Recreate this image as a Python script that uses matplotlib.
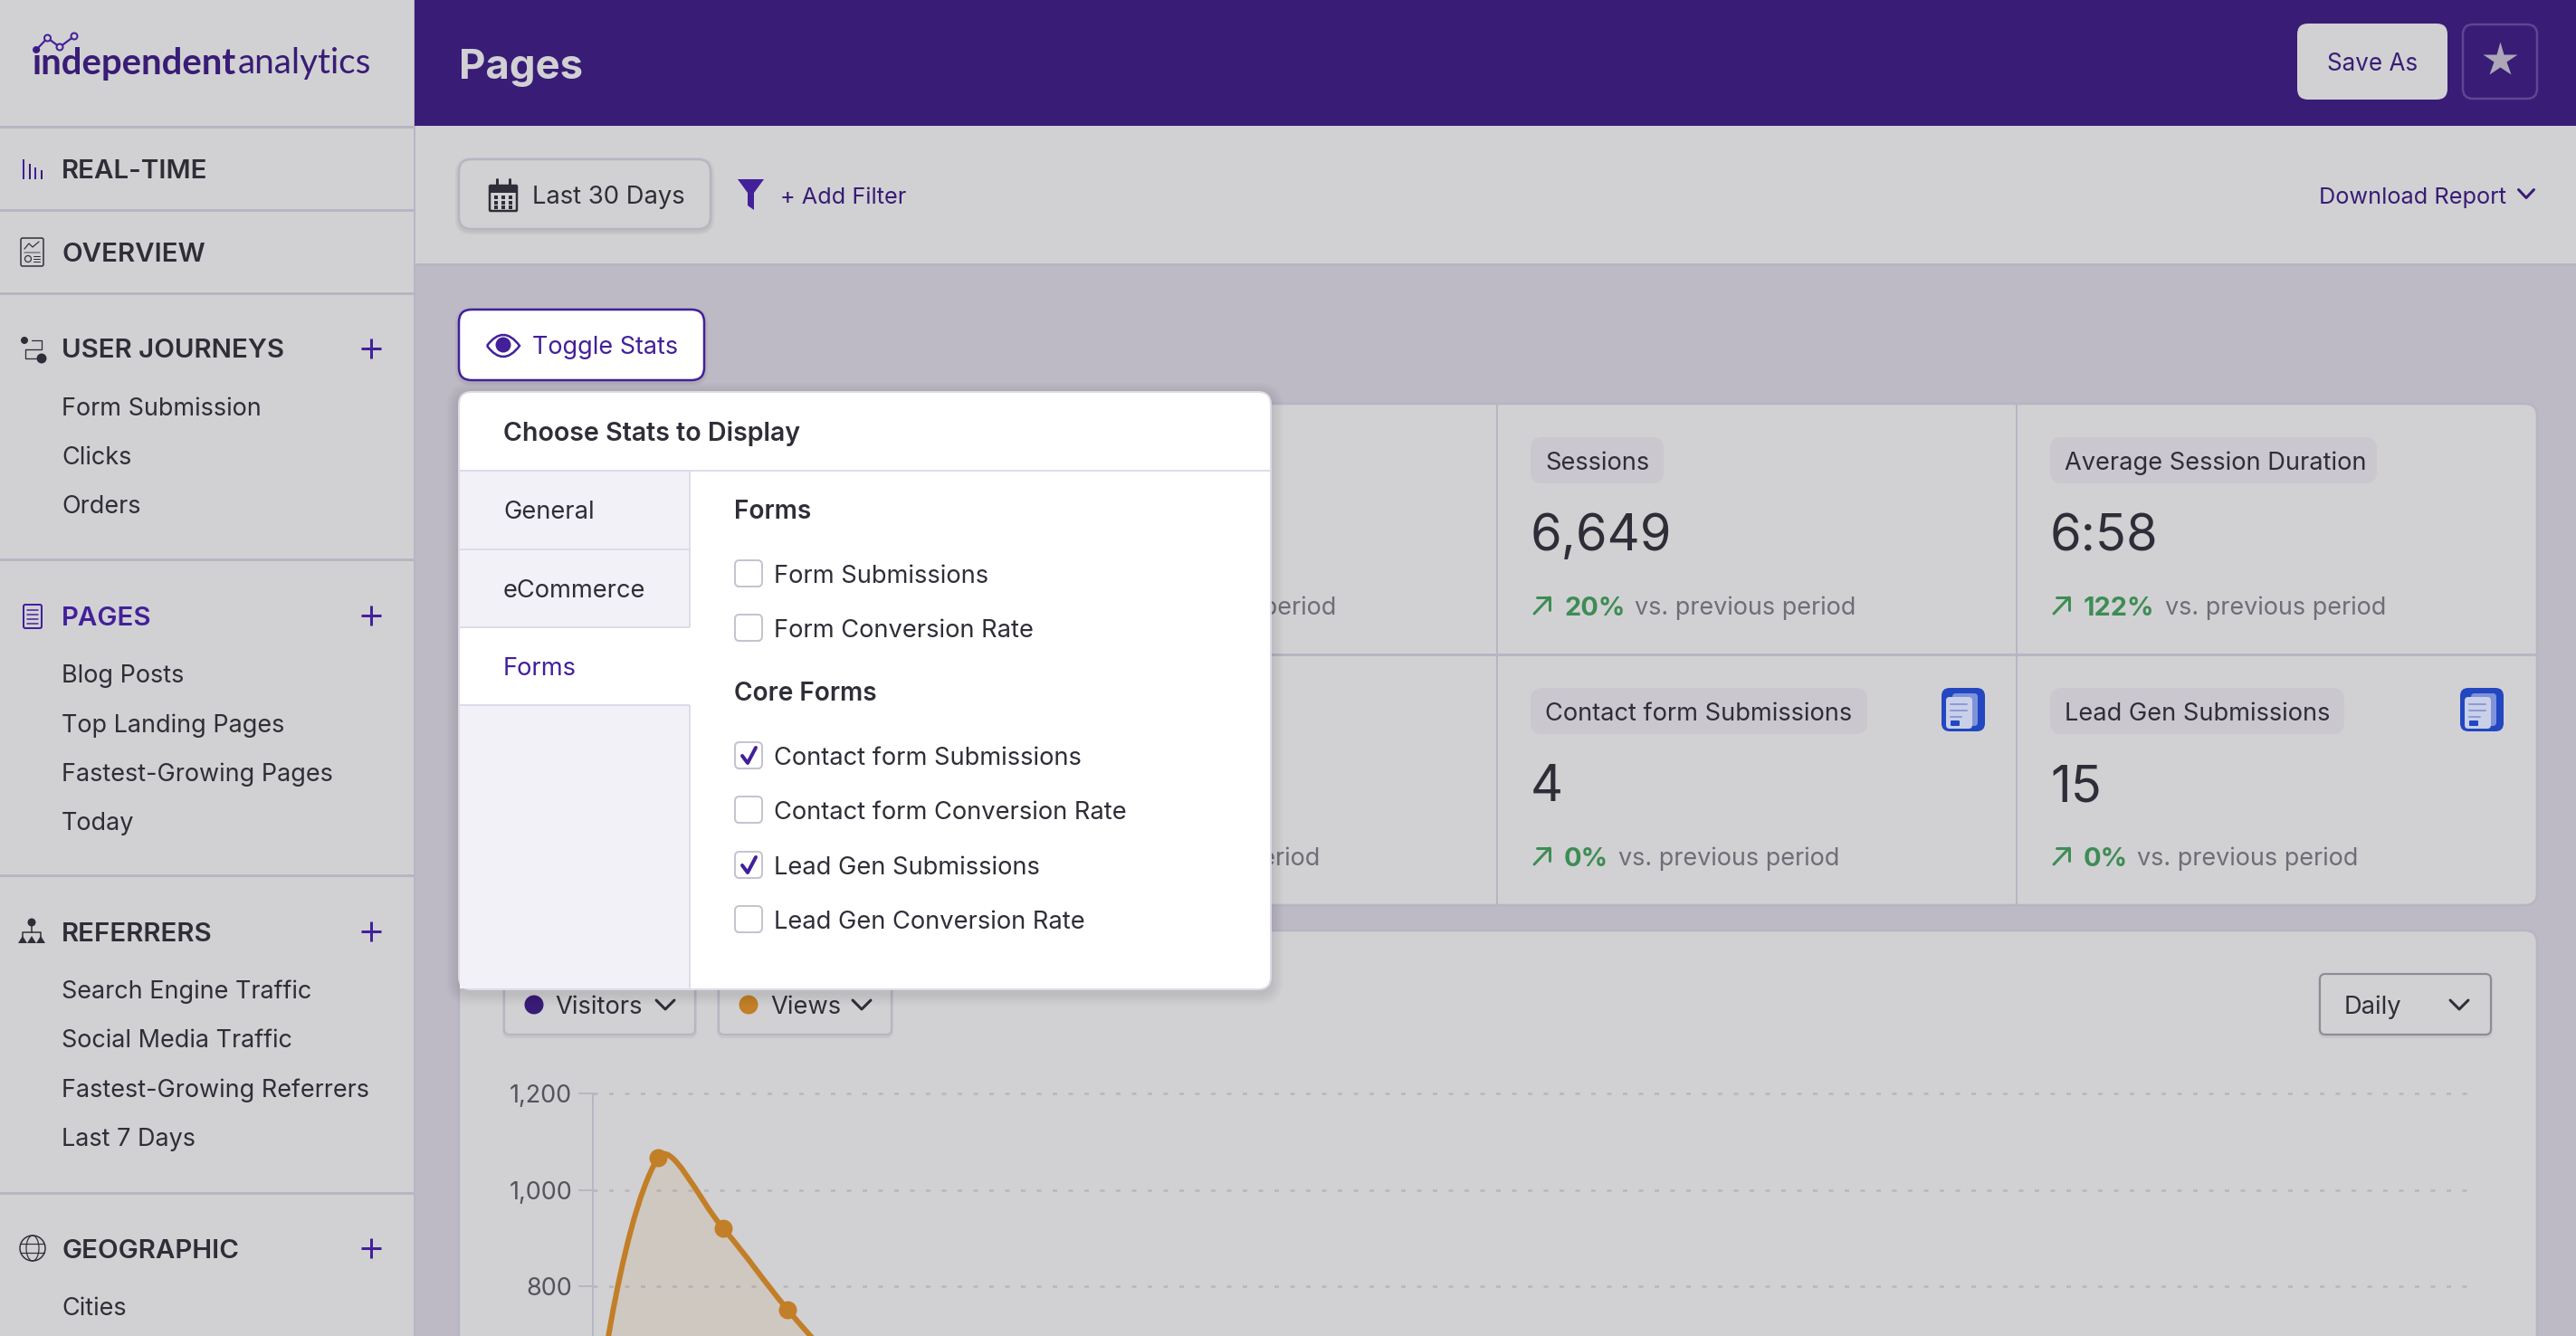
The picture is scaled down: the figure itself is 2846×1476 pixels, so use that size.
#!/usr/bin/env python3
"""Independent Analytics "Pages" screen with the Toggle Stats popover open."""

import numpy as np
import matplotlib
matplotlib.use('Agg')
import matplotlib.pyplot as plt
from matplotlib.patches import FancyBboxPatch, PathPatch, Rectangle, Circle, Polygon, Ellipse
from matplotlib.path import Path
from matplotlib.ticker import FuncFormatter

# ── Data ──────────────────────────────────────────────────────────────
NAV_TOP = ['REAL-TIME', 'OVERVIEW']
NAV_JOURNEYS = ['Form Submission', 'Clicks', 'Orders']
NAV_PAGES = ['Blog Posts', 'Top Landing Pages', 'Fastest-Growing Pages', 'Today']
NAV_REFERRERS = ['Search Engine Traffic', 'Social Media Traffic',
                 'Fastest-Growing Referrers', 'Last 7 Days']
NAV_GEO = ['Cities']

TABS = ['General', 'eCommerce', 'Forms']
FORMS_OPTS = ['Form Submissions', 'Form Conversion Rate']
CORE_OPTS = ['Contact form Submissions', 'Contact form Conversion Rate',
             'Lead Gen Submissions', 'Lead Gen Conversion Rate']
CORE_CHECKED = [True, False, True, False]

CARD_LABELS = ['Sessions', 'Average Session Duration',
               'Contact form Submissions', 'Lead Gen Submissions']
CARD_VALUES = ['6,649', '6:58', '4', '15']
CARD_DELTAS = ['20%', '122%', '0%', '0%']

DAYS = [0, 1, 2, 3, 4]
VIEWS = [480, 1066, 921, 751, 600]
Y_TICKS = [800, 1000, 1200]

# ── Colours ───────────────────────────────────────────────────────────
PANEL = '#D1D1D3'
PAGE = '#BDBAC5'
RULE = '#B8B5C3'
PURPLE = '#391C76'
BRIGHT = '#43209A'
INK = '#2F2E38'
MUTED = '#6F6D78'
GREEN = '#3E8C55'
PILL = '#CAC7CE'
ORANGE = '#C27F27'
BLUE = '#2347C0'
TAB_BG = '#F3F1F8'
POP_RULE = '#DEDBE8'

W, H = 2846, 1476
DPI = 100
FONT = 'Inter'
BODY = 27.3

plt.rcParams['font.family'] = [FONT, 'DejaVu Sans']

fig = plt.figure(figsize=(W / DPI, H / DPI), dpi=DPI, facecolor=PAGE)
ax = fig.add_axes([0, 0, 1, 1])
ax.set_xlim(0, W)
ax.set_ylim(H, 0)
ax.axis('off')


def px(v):
    """Pixels to points."""
    return v * 72 / DPI


def txt(x, y, s, size=BODY, color=INK, weight='normal', ha='left', z=5, **kw):
    # y is the middle of the capitals
    return ax.text(x, y + 0.3635 * size, s, fontsize=px(size), color=color,
                   fontweight=weight, ha=ha, va='baseline', zorder=z, **kw)


def box(x0, y0, x1, y1, r=10, fc='none', ec='none', lw=0, z=2):
    p = FancyBboxPatch((x0, y0), x1 - x0, y1 - y0,
                       boxstyle=f'round,pad=0,rounding_size={r}',
                       fc=fc, ec=ec, lw=px(lw), zorder=z)
    ax.add_patch(p)
    return p


def shadow(x0, y0, x1, y1, r=10, spread=10, alpha=0.025, dy=2, z=1.5):
    for s in range(spread, 0, -2):
        box(x0 - s, y0 - s + dy, x1 + s, y1 + s + dy, r=r + s,
            fc=(0, 0, 0, alpha), z=z)


def rect(x0, y0, x1, y1, fc, z=1):
    ax.add_patch(Rectangle((x0, y0), x1 - x0, y1 - y0, fc=fc, ec='none', zorder=z))


def line(xs, ys, color=INK, lw=2, z=5, **kw):
    ax.plot(xs, ys, color=color, lw=px(lw), zorder=z,
            solid_capstyle=kw.pop('cap', 'round'), solid_joinstyle='round', **kw)


def chevron(cx, cy, w=18, h=9, color=INK, lw=3, z=5):
    line([cx - w / 2, cx, cx + w / 2], [cy - h / 2, cy + h / 2, cy - h / 2],
         color=color, lw=lw, z=z)


def plus(cx, cy, size=11, color=BRIGHT):
    line([cx - size, cx + size], [cy, cy], color=color, lw=3, cap='butt')
    line([cx, cx], [cy - size, cy + size], color=color, lw=3, cap='butt')


def circ(cx, cy, r, fc='none', ec='none', lw=0, z=5):
    ax.add_patch(Circle((cx, cy), r, fc=fc, ec=ec, lw=px(lw), zorder=z))


# ── Layout backgrounds ────────────────────────────────────────────────
rect(0, 0, 457, H, PANEL, z=0.5)
rect(457, 0, 459, H, RULE, z=0.6)
rect(458, 0, W, 139, PURPLE, z=0.7)
rect(459, 139, W, 291, PANEL, z=0.5)
rect(459, 291, W, 294, RULE, z=0.6)

# ── Sidebar ───────────────────────────────────────────────────────────
for y in [140, 232, 324, 618, 967, 1318]:
    rect(0, y - 1.5, 457, y + 1.5, RULE, z=0.8)

# logo
lx = [40, 52.5, 66, 82]
ly = [55, 42, 52, 40]
line(lx, ly, color=BRIGHT, lw=2.2)
circ(lx[0], ly[0], 4, fc=BRIGHT)
for a, b in zip(lx[1:], ly[1:]):
    circ(a, b, 3.5, fc=PANEL, ec=BRIGHT, lw=2, z=6)
txt(35, 67, 'independent', size=40, color=PURPLE, weight='bold', family='Lato')
txt(263, 67, 'analytics', size=38.6, color=PURPLE, family='Lato')

CAPS = 29.5
txt(68, 186, NAV_TOP[0], size=CAPS, weight='semibold')
txt(68, 278, NAV_TOP[1], size=CAPS, weight='semibold')
txt(68, 384, 'USER JOURNEYS', size=CAPS, weight='semibold')
txt(68, 680, 'PAGES', size=CAPS, color=BRIGHT, weight='semibold')
txt(68, 1029, 'REFERRERS', size=CAPS, weight='semibold')
txt(68, 1379, 'GEOGRAPHIC', size=CAPS, weight='semibold')

for labels, ys in [(NAV_JOURNEYS, [449, 503, 557]),
                   (NAV_PAGES, [744, 799, 853, 907]),
                   (NAV_REFERRERS, [1093, 1147, 1202, 1256]),
                   (NAV_GEO, [1443])]:
    for lab, y in zip(labels, ys):
        txt(68, y, lab, size=27)

for y in [385, 680, 1029, 1379]:
    plus(410, y)

# real-time icon
for i, h in enumerate([22, 17, 13, 10]):
    x = 26 + i * 6.5
    line([x, x], [198, 198 - h], color=BRIGHT if i % 2 == 0 else PURPLE, lw=2, cap='butt')

# overview icon
box(23, 263, 48, 294, r=2, ec=INK, lw=1.5)
line([27, 32, 36, 43], [275, 269, 273, 267], lw=1.2)
line([27, 44], [278.5, 278.5], color='#77757F', lw=1.5)
circ(31, 286, 3.5, ec=INK, lw=1.2)
for y in [283, 286, 289]:
    line([37, 44], [y, y], lw=1)

# journeys icon
circ(27, 376, 4, fc=INK)
line([35, 46, 46, 28, 28, 40], [376, 376, 386, 386, 396, 396], lw=1.3)
circ(46, 396, 5.5, fc=INK)

# pages icon
box(26, 668, 46, 694, r=2, ec=BRIGHT, lw=2)
for y in [674, 679, 684, 689]:
    line([30, 42], [y, y], color=BRIGHT, lw=1.5)

# referrers icon
circ(35, 1019, 4.5, fc=INK)
line([35, 35], [1023, 1030], lw=1.5)
line([25, 25, 45, 45], [1035, 1030, 1030, 1035], lw=1.5)
for x in [25, 35, 45]:
    ax.add_patch(Polygon([[x - 5, 1042], [x, 1034], [x + 5, 1042]], fc=INK, ec='none', zorder=5))

# geographic icon
circ(36, 1379, 14, ec=INK, lw=1.5)
ax.add_patch(Ellipse((36, 1379), 14, 28, fc='none', ec=INK, lw=px(1.2), zorder=5))
line([23, 49], [1374, 1374], lw=1.2)
line([23, 49], [1384, 1384], lw=1.2)

# ── Header ────────────────────────────────────────────────────────────
txt(507, 70, 'Pages', size=45.5, color=PANEL, weight='bold')
box(2538, 26, 2704, 110, r=12, fc=PANEL)
txt(2621, 69, 'Save As', size=26, color=PURPLE, ha='center')
box(2721, 27, 2803, 109, r=11, fc='none', ec='#5E4690', lw=2.5)
ax.plot([2762], [66], marker='*', ms=px(40), color='#ACA8B8', mec='none', zorder=5)

# ── Toolbar ───────────────────────────────────────────────────────────
shadow(507, 176, 785, 253, r=14, spread=4, alpha=0.04)
box(507, 176, 785, 253, r=14, fc=PANEL, ec=RULE, lw=2.5)

# calendar
box(541, 205, 571, 233, r=1, fc=PANEL, ec=INK, lw=2.5)
rect(541, 204, 571, 213, INK, z=5)
for x in [549, 563]:
    line([x, x], [198, 207], lw=3)
for gx in [548, 556, 564]:
    for gy in [218, 224, 229]:
        rect(gx - 2, gy - 2, gx + 2, gy + 2, INK, z=5)
txt(588, 215, 'Last 30 Days', size=27.4)

# funnel
ax.add_patch(Polygon([[815, 198], [844, 198], [833, 213], [833, 232], [826, 227], [826, 213]],
                     fc=BRIGHT, ec='none', zorder=5))
txt(862, 216, '+ Add Filter', size=25.3, color=PURPLE)
txt(2769, 216, 'Download Report', size=25.3, color=PURPLE, ha='right')
chevron(2791, 214, w=17, h=9, color=PURPLE)

# ── Toggle button ─────────────────────────────────────────────────────
shadow(507, 342, 778, 420, r=14, spread=4, alpha=0.04)
box(507, 342, 778, 420, r=14, fc='white', ec=BRIGHT, lw=2.5, z=4)
eye = Path([(538, 382), (550, 366), (562, 366), (574, 382), (562, 398), (550, 398), (538, 382)],
           [Path.MOVETO, Path.CURVE4, Path.CURVE4, Path.CURVE4, Path.CURVE4, Path.CURVE4, Path.CURVE4])
ax.add_patch(PathPatch(eye, fc='none', ec=BRIGHT, lw=px(2.5), zorder=5))
circ(556, 381, 8.5, fc=BRIGHT)
txt(588, 381, 'Toggle Stats', size=27, color=BRIGHT)

# ── Stat cards ────────────────────────────────────────────────────────
box(507, 446, 2803, 1000, r=14, fc=PANEL, ec=RULE, lw=2.5, z=1)
rect(507, 722, 2803, 724.5, RULE, z=1.1)
for x in [1654, 2228]:
    rect(x - 1, 446, x + 1, 1000, RULE, z=1.1)

# tail ends of the two cards that sit behind the popover
txt(1476, 669, 'vs. previous period', size=27, color=MUTED, ha='right', z=1.2)
txt(1458, 946, 'vs. previous period', size=27, color=MUTED, ha='right', z=1.2)

card_x = [1691, 2265, 1691, 2265]
card_y = [483, 483, 760, 760]
pill_r = [1838, 2626, 2063, 2590]
vs_x = [1806, 2392, 1788, 2361]
for i in range(4):
    x, y = card_x[i], card_y[i]
    box(x, y, pill_r[i], y + 51, r=13, fc=PILL, z=1.2)
    txt(x + 16, y + 26, CARD_LABELS[i], size=27.2)
    txt(x, y + 105, CARD_VALUES[i], size=56)
    # trend arrow
    ay = y + 186
    line([x + 4, x + 21], [ay + 9, ay - 9], color=GREEN, lw=3)
    line([x + 7, x + 21, x + 21], [ay - 9, ay - 9, ay + 5], color=GREEN, lw=3)
    txt(x + 37, ay, CARD_DELTAS[i], size=29, color=GREEN, weight='bold')
    txt(vs_x[i], ay, 'vs. previous period', size=27, color=MUTED)

for x in [2145, 2718]:
    box(x, 760, x + 48, 808, r=9, fc=BLUE, z=2)
    box(x + 12, 766, x + 40, 802, r=4, fc='#7F93DB', z=2.1)
    box(x + 5, 770, x + 34, 805, r=4, fc='#C9D0E8', z=2.2)
    for yy, w in [(778, 18), (785, 18), (792, 12)]:
        line([x + 10, x + 10 + w], [yy, yy], color='#8C9BD8', lw=2, z=2.3)
    box(x + 10, 796, x + 20, 802, r=1, fc=BLUE, z=2.3)

# ── Chart card ────────────────────────────────────────────────────────
box(507, 1028, 2803, 1560, r=14, fc=PANEL, ec=RULE, lw=2.5, z=1)
for x0, x1, dot, lab, tx, cx in [(557, 768, PURPLE, 'Visitors', 613, 735),
                                 (794, 985, ORANGE, 'Views', 851, 952)]:
    shadow(x0, 1077, x1, 1143, r=6, spread=2, alpha=0.05)
    box(x0, 1077, x1, 1143, r=6, fc=PANEL, ec=RULE, lw=2.2, z=2)
    circ(x0 + 33, 1110, 10.5, fc=dot)
    txt(tx, 1110, lab, size=27.3)
    chevron(cx, 1110, w=20, h=10, lw=3)
shadow(2563, 1076, 2752, 1143, r=6, spread=2, alpha=0.05)
box(2563, 1076, 2752, 1143, r=6, fc=PANEL, ec='#8E8C98', lw=2.2, z=2)
txt(2590, 1110, 'Daily', size=27.3)
chevron(2717, 1110, w=20, h=10, lw=3)

# ── Chart ─────────────────────────────────────────────────────────────
PLOT_L, PLOT_R, PLOT_T = 655, 2737, 1208
PX_PER_UNIT = 106.5 / 200
y_low = 1200 - (H - PLOT_T) / PX_PER_UNIT

cax = fig.add_axes([PLOT_L / W, 0, (PLOT_R - PLOT_L) / W, (H - PLOT_T + 4) / H])
cax.patch.set_alpha(0)
cax.set_xlim(0, 29)
cax.set_ylim(y_low, 1200 + 4 / PX_PER_UNIT)
for s in ['top', 'right', 'bottom']:
    cax.spines[s].set_visible(False)
cax.spines['left'].set_color(RULE)
cax.spines['left'].set_linewidth(px(2))
cax.spines['left'].set_bounds(y_low, 1200)
cax.set_xticks([])
cax.set_yticks(Y_TICKS)
cax.yaxis.set_major_formatter(FuncFormatter(lambda v, _: f'{v:,.0f}'))
cax.tick_params(axis='y', length=px(16), width=px(2), color=RULE,
                labelcolor='#55535E', labelsize=px(27), pad=px(7))
cax.grid(axis='y', color=RULE, lw=px(2.5), ls=(0, (2, 5)))
cax.set_axisbelow(True)

# spline through the values, same tension as the original chart library
pts = cax.transData.transform(np.column_stack([DAYS, VIEWS]))
tension = 0.4
verts = [pts[0]]
codes = [Path.MOVETO]
ctrl_out = pts[0]
for i in range(1, len(pts)):
    if i < len(pts) - 1:
        d01 = np.hypot(*(pts[i] - pts[i - 1]))
        d12 = np.hypot(*(pts[i + 1] - pts[i]))
        grad = pts[i + 1] - pts[i - 1]
        ctrl_in = pts[i] - tension * d01 / (d01 + d12) * grad
        next_out = pts[i] + tension * d12 / (d01 + d12) * grad
    else:
        ctrl_in = pts[i]
        next_out = pts[i]
    verts += [ctrl_out, ctrl_in, pts[i]]
    codes += [Path.CURVE4] * 3
    ctrl_out = next_out
to_data = cax.transData.inverted()
curve = to_data.transform(np.array(verts))

fill_verts = np.vstack([curve, [[DAYS[-1], 0]], [[DAYS[0], 0]], curve[:1]])
fill_codes = codes + [Path.LINETO, Path.LINETO, Path.CLOSEPOLY]
cax.add_patch(PathPatch(Path(fill_verts, fill_codes), fc=ORANGE, alpha=0.1, ec='none', zorder=2))
cax.add_patch(PathPatch(Path(curve, codes), fc='none', ec=ORANGE, lw=px(6), zorder=3))
cax.plot(DAYS, VIEWS, 'o', color=ORANGE, ms=px(20), mec='none', zorder=4)

# ── Popover ───────────────────────────────────────────────────────────
Z = 20
shadow(507, 433, 1404, 1093, r=14, spread=14, alpha=0.01, dy=4, z=Z - 1)
box(507, 433, 1404, 1093, r=14, fc='white', ec='#DEDBE8', lw=2, z=Z)

# tab column
box(508, 521, 762, 1092, r=0, fc=TAB_BG, z=Z + 0.1)
rect(508, 693, 762, 779, 'white', z=Z + 0.2)
rect(761, 521, 763, 693, POP_RULE, z=Z + 0.3)
rect(761, 779, 763, 1092, POP_RULE, z=Z + 0.3)
rect(508, 519, 1403, 521, POP_RULE, z=Z + 0.3)
for y in [607, 693, 779]:
    rect(508, y - 1, 762, y + 1, POP_RULE, z=Z + 0.3)

TZ = Z + 1
txt(556, 477, 'Choose Stats to Display', size=28.6, weight='semibold', z=TZ)
for lab, y in zip(TABS, [563, 650, 736]):
    txt(556, y, lab, color=BRIGHT if lab == 'Forms' else INK, z=TZ)

txt(811, 563, 'Forms', size=28, weight='semibold', z=TZ)
txt(811, 764, 'Core Forms', size=28, weight='semibold', z=TZ)


def checkbox(y, label, checked=False):
    box(812, y - 15, 842, y + 15, r=5, fc='#D9D7E0', z=TZ - 0.2)
    box(812, y - 15, 842, y + 14, r=5, fc='white', ec='#C6C3D1', lw=2, z=TZ)
    if checked:
        line([820, 826, 835], [y, y + 8, y - 9], color=BRIGHT, lw=4, z=TZ + 0.1)
    txt(855, y, label, z=TZ)


for lab, y in zip(FORMS_OPTS, [634, 694]):
    checkbox(y, lab)
for lab, y, chk in zip(CORE_OPTS, [835, 895, 956, 1016], CORE_CHECKED):
    checkbox(y, lab, chk)

fig.savefig('out.png', dpi=DPI, facecolor=PAGE)
